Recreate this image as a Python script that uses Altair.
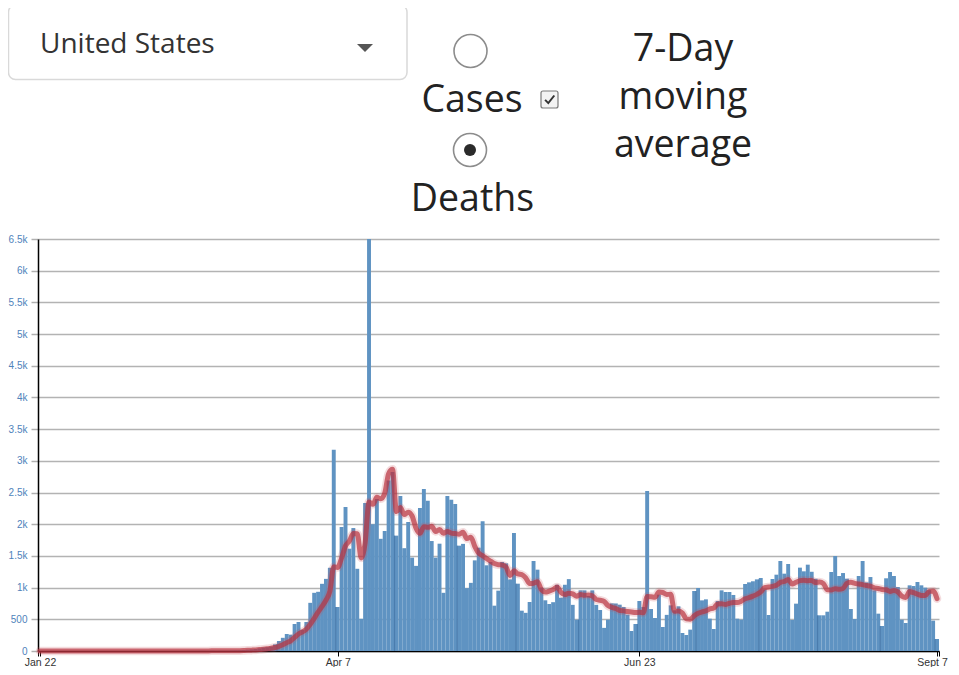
import altair as alt
import pandas as pd

# ---- data (daily US deaths, Jan 22 .. Sep 7, 2020) ----
start_date = "2020-01-22"
deaths = (
    [0] * 38
    + [1, 1, 1, 4, 3, 2, 5, 2, 4, 3, 4, 7, 10, 11, 15, 21, 26, 32, 42, 54, 60, 70, 105]
    + [158, 208, 268, 258, 426, 458, 335, 458, 760, 918, 934, 1060, 1138, 1313, 3174,
       694, 1956, 2272, 1614, 1940, 1297, 508, 2335, 6500, 2000, 2398, 1770, 1893, 2688,
       2824, 1820, 2445, 1622, 2035, 1473, 1343, 2258, 2556, 2372, 1735, 1473, 1693, 918,
       2445, 2385, 2319, 1662, 1690, 992, 1075, 1430, 1630, 2048, 1352, 1404, 715, 952,
       1404, 1383, 1130, 1862, 1062, 636, 602, 773, 1420, 1283, 1000, 800, 740, 770, 1045,
       841, 1045, 1134, 728, 494, 957, 957, 868, 957, 728, 647, 365, 494, 752, 750, 731,
       694, 575, 316, 426, 789, 694, 2524, 663, 521, 889, 379, 570, 720, 642, 705, 284,
       252, 337, 947, 994, 799, 815, 510, 347, 789, 957, 931, 931, 884, 510, 494, 1057,
       1083, 1100, 1130, 1152, 973, 568, 1136, 1204, 1420, 1220, 1373, 489, 747, 1315,
       1257, 1362, 1250, 1140, 563, 563, 620, 1246, 1499, 1183, 1230, 1141, 663, 505,
       1183, 1420, 1083, 1167, 957, 589, 394, 1147, 1246, 1183, 1010, 494, 442, 1036,
       1025, 1089, 1036, 1000, 960, 479, 189]
)
# day indices after which a darker seam shows between two adjacent bars
seam_after_day = [60, 75, 90, 106, 121, 137, 152, 167, 183, 198, 214, 228]
y_ticks = list(range(0, 6501, 500))
x_tick_dates = [(2020, 1, 22), (2020, 4, 7), (2020, 6, 23), (2020, 9, 7)]

dropdown_label = ["United States"]
radio_labels = ["Cases", "Deaths"]
ma_label_lines = ["7-Day", "moving", "average"]

# ---- tables ----
dates = pd.date_range(start_date, periods=len(deaths), freq="D")
df = pd.DataFrame({
    "date": dates,
    "start": dates - pd.Timedelta(hours=12),
    "end": dates + pd.Timedelta(hours=12),
    "deaths": deaths,
})
seam_df = pd.DataFrame({
    "sx": [dates[d] + pd.Timedelta(hours=12) for d in seam_after_day],
    "sy": [min(deaths[d], deaths[d + 1]) for d in seam_after_day],
})

x_dom = [alt.DateTime(year=2020, month=1, date=21, hours=12),
         alt.DateTime(year=2020, month=9, date=7, hours=12)]
x_vals = [x_dom[0]] + [alt.DateTime(year=y, month=m, date=d) for y, m, d in x_tick_dates] + [x_dom[1]]

x_scale = alt.Scale(domain=x_dom)
y_scale = alt.Scale(domain=[0, 6500], nice=False)

x_axis = alt.Axis(
    values=x_vals, title=None, grid=False,
    labelExpr="timeFormat(datum.value, '%H') == '12' ? '' : replace(timeFormat(datum.value, '%b %-d'), 'Sep', 'Sept')",
    labelFont="Liberation Sans", labelFontSize=10.5, labelColor="#333333",
    labelFlush=False, labelOverlap=False, labelPadding=1,
    labelOffset={"condition": {"test": "month(datum.value) == 8", "value": -5}, "value": 0},
    tickColor="#000000", tickSize=5, tickWidth=1,
    domainColor="#000000", domainWidth=1.5,
)
y_axis = alt.Axis(
    values=y_ticks, title=None,
    labelExpr="datum.value >= 1000 ? (datum.value / 1000) + 'k' : datum.value + ''",
    labelFont="Liberation Sans", labelFontSize=10, labelColor="#4f83bb", labelPadding=4,
    labelOverlap=False, labelFlush=False,
    tickColor="#b0b0b0", tickSize=7, tickWidth=1.5,
    gridColor="#b3b3b3", gridWidth=1.6,
    domainColor="#000000", domainWidth=1.5,
)

base = alt.Chart(df)

bars = base.mark_bar(color="#5f93c2").encode(
    x=alt.X("start:T", scale=x_scale, axis=x_axis),
    x2="end:T",
    y=alt.Y("deaths:Q", scale=y_scale, axis=y_axis),
    y2=alt.datum(0),
)
seams = alt.Chart(seam_df).mark_rule(color="#4a7cad", strokeWidth=1.2).encode(
    x=alt.X("sx:T", scale=x_scale, axis=x_axis),
    y=alt.Y("sy:Q", scale=y_scale, axis=y_axis),
    y2=alt.datum(0),
)

ma = base.transform_window(
    ma="mean(deaths)", frame=[-6, 0], sort=[alt.SortField("date")]
)
glow = ma.mark_line(color="#c8505c", strokeWidth=8.5, opacity=0.2,
                    interpolate="monotone", strokeCap="round", strokeJoin="round").encode(
    x=alt.X("date:T", scale=x_scale, axis=x_axis), y=alt.Y("ma:Q", scale=y_scale, axis=y_axis))
line = ma.mark_line(color="#b8323f", strokeWidth=5, opacity=0.7,
                    interpolate="monotone", strokeCap="round", strokeJoin="round").encode(
    x=alt.X("date:T", scale=x_scale, axis=x_axis), y=alt.Y("ma:Q", scale=y_scale, axis=y_axis))

# ---- header controls (positions relative to the plot origin at page (38, 239)) ----
one = pd.DataFrame({"k": [0]})
box = alt.Chart(one).mark_rect(fill="white", stroke="#d9d9d9", strokeWidth=1.5, cornerRadius=7).encode(
    x=alt.value(-29.5), x2=alt.value(369), y=alt.value(-234), y2=alt.value(-159.5))
dd_text = alt.Chart(pd.DataFrame({"t": dropdown_label})).mark_text(
    font="Open Sans", fontSize=28, color="#333333", align="left", baseline="alphabetic").encode(
    text="t:N", x=alt.value(2), y=alt.value(-186))
caret = alt.Chart(one).mark_point(shape="M-1,-0.5L1,-0.5L0,0.5Z", size=256, filled=True,
                                  color="#555555", opacity=1).encode(
    x=alt.value(327), y=alt.value(-191))

radio1 = alt.Chart(one).mark_point(shape="circle", size=1089, filled=True, fill="white",
                                   stroke="#8c8c8c", strokeWidth=1.6, opacity=1).encode(
    x=alt.value(432.5), y=alt.value(-188))
radio2 = alt.Chart(one).mark_point(shape="circle", size=1089, filled=True, fill="white",
                                   stroke="#8c8c8c", strokeWidth=1.6, opacity=1).encode(
    x=alt.value(432), y=alt.value(-89))
dot = alt.Chart(one).mark_point(shape="circle", size=144, filled=True, color="#2b2b2b", opacity=1).encode(
    x=alt.value(432), y=alt.value(-89))

cases_text = alt.Chart(pd.DataFrame({"t": [radio_labels[0]]})).mark_text(
    font="Open Sans", fontSize=37.5, color="#222222", align="center", baseline="alphabetic").encode(
    text="t:N", x=alt.value(434), y=alt.value(-127))
deaths_text = alt.Chart(pd.DataFrame({"t": [radio_labels[1]]})).mark_text(
    font="Open Sans", fontSize=37.5, color="#222222", align="center", baseline="alphabetic").encode(
    text="t:N", x=alt.value(434.5), y=alt.value(-28))

checkbox = alt.Chart(one).mark_rect(fill="#f3f3f3", stroke="#7a7a7a", strokeWidth=1.2, cornerRadius=2).encode(
    x=alt.value(503), x2=alt.value(520), y=alt.value(-148), y2=alt.value(-131))
check = alt.Chart(one).mark_point(shape="M-0.55,0.05L-0.15,0.45L0.6,-0.5", size=256, filled=False,
                                  stroke="#333333", strokeWidth=2, opacity=1).encode(
    x=alt.value(511.5), y=alt.value(-139.5))

ma_texts = [
    alt.Chart(pd.DataFrame({"t": [txt]})).mark_text(
        font="Open Sans", fontSize=37.5, color="#222222", align="center", baseline="alphabetic").encode(
        text="t:N", x=alt.value(645), y=alt.value(-178 + i * 48))
    for i, txt in enumerate(ma_label_lines)
]

chart = alt.layer(
    bars, seams, glow, line,
    box, dd_text, caret, radio1, radio2, dot, cases_text, deaths_text, checkbox, check, *ma_texts,
).properties(
    width=901, height=412,
    padding={"left": 30, "top": 231, "right": 12, "bottom": 16},
    autosize=alt.AutoSizeParams(type="none"),
    background="white",
).configure_view(stroke="transparent")

chart.save("out.html", embed_options={"renderer": "svg", "actions": False})
